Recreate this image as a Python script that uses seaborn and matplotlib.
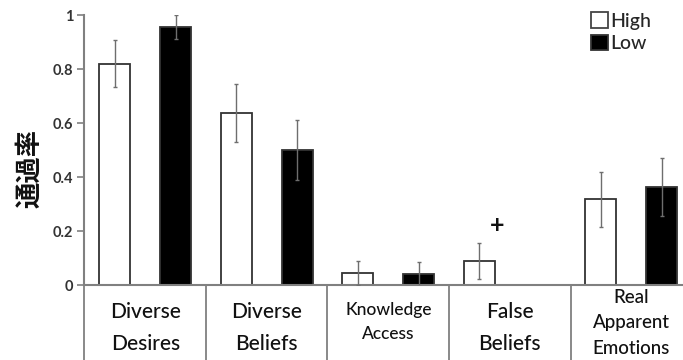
import numpy as np
import pandas as pd
import matplotlib
matplotlib.use("Agg")
import matplotlib.pyplot as plt
import matplotlib.transforms as mtransforms
import seaborn as sns

# Pass rates per task and group
tasks = ["Diverse\nDesires", "Diverse\nBeliefs", "Knowledge\nAccess", "False\nBeliefs",
         "Real\nApparent\nEmotions"]
groups = ["High", "Low"]
high_vals = [0.82, 0.637, 0.044, 0.089, 0.318]
low_vals = [0.955, 0.50, 0.041, 0.0, 0.364]
high_err = [0.086, 0.106, 0.045, 0.066, 0.102]
low_err = [0.045, 0.112, 0.046, 0.0, 0.108]
y_ticks = [0, 0.2, 0.4, 0.6, 0.8, 1]
y_tick_labels = ["0", "0.2", "0.4", "0.6", "0.8", "1"]

# Per-label typography for the category names
label_sizes = [15, 15, 12.5, 15, 13.5]
label_spacing = [1.75, 1.75, 1.6, 1.75, 1.6]
label_top_px = [302, 302, 302, 302, 289]

df = pd.DataFrame({
    "task": tasks * 2,
    "group": ["High"] * len(tasks) + ["Low"] * len(tasks),
    "rate": high_vals + low_vals,
    "err": high_err + low_err,
})

sns.set_theme(style="white")
plt.rcParams["font.family"] = ["Lato", "Noto Sans CJK JP", "DejaVu Sans"]

W, H = 683, 360
fig = plt.figure(figsize=(W / 100, H / 100), dpi=100)
ax = fig.add_axes([0.1237, 0.2083, 0.8895, 0.75])

sns.barplot(data=df, x="task", y="rate", hue="group", order=tasks, hue_order=groups,
            palette={"High": "white", "Low": "black"}, width=1.0, gap=0.49,
            errorbar=None, edgecolor="#333333", linewidth=1.3, ax=ax, legend=False)

# Error bars centred on each drawn bar
for cont, level in zip(ax.containers, groups):
    sub = df[df["group"] == level].set_index("task").loc[tasks]
    xs = np.array([p.get_x() + p.get_width() / 2 for p in cont.patches])
    errs = sub["err"].values
    mask = errs > 0
    ax.errorbar(xs[mask], sub["rate"].values[mask], yerr=errs[mask],
                fmt="none", ecolor="#6e6e6e", elinewidth=1.0, capsize=1.5, capthick=1.0,
                zorder=5)

ax.set_xlim(-0.5, 4.5)
ax.set_ylim(0, 1)
ax.set_yticks(y_ticks)
ax.set_yticklabels(y_tick_labels)
ax.set_xlabel("")
ax.set_ylabel("通過率", family=["Noto Sans CJK JP"], fontsize=19, fontweight="bold",
              color="#111111")
ax.yaxis.set_label_coords(-0.068, 0.43)

for sp in ["top", "right"]:
    ax.spines[sp].set_visible(False)
for sp in ["left", "bottom"]:
    ax.spines[sp].set_color("#808080")
    ax.spines[sp].set_linewidth(1.5)

ax.tick_params(axis="y", which="major", left=True, direction="out", length=5, width=1.2,
               color="#808080", labelsize=10.5, labelcolor="#333333", pad=3)
for t in ax.get_yticklabels():
    t.set_fontweight("bold")

# Category dividers below the axis
ax.set_xticks([-0.5, 0.5, 1.5, 2.5, 3.5], minor=True)
ax.tick_params(axis="x", which="minor", bottom=True, direction="out", length=60,
               width=1.3, color="#808080")
ax.tick_params(axis="x", which="major", bottom=False, length=0, labelbottom=False)

# Category names under each group
trans = mtransforms.blended_transform_factory(ax.transData, fig.transFigure)
for i, (name, s, ls, top) in enumerate(zip(tasks, label_sizes, label_spacing, label_top_px)):
    ax.text(i, 1 - top / H, name, transform=trans, ha="center", va="top",
            multialignment="center", fontsize=s, linespacing=ls, color="#111111",
            fontweight="medium", clip_on=False)

ax.text(2.9, 0.22, "+", ha="center", va="center", fontsize=18, fontweight="bold",
        color="#111111")

handles = [plt.Rectangle((0, 0), 1, 1, facecolor="white", edgecolor="#444444", lw=1.3),
           plt.Rectangle((0, 0), 1, 1, facecolor="black", edgecolor="#333333", lw=1.3)]
leg = ax.legend(handles, groups, loc="upper left", bbox_to_anchor=(0.866, 0.966),
                bbox_transform=fig.transFigure, frameon=False,
                prop={"size": 14, "weight": "medium"},
                handlelength=0.85, handleheight=0.85, handletextpad=0.1,
                labelspacing=0.25, borderpad=0, borderaxespad=0)

fig.savefig("out.png", dpi=100)
